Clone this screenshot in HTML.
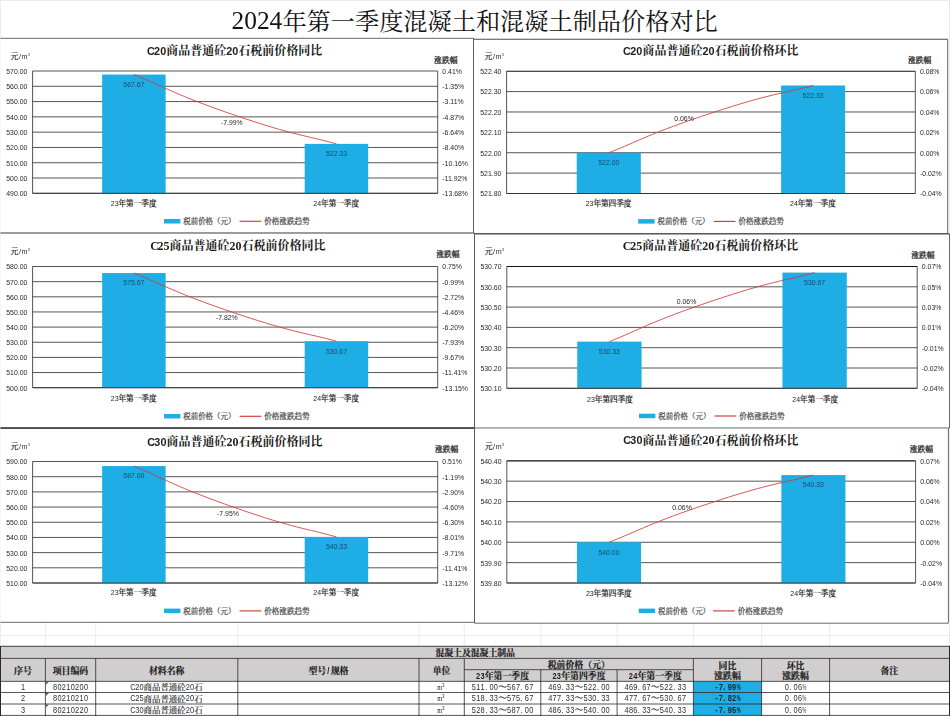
<!DOCTYPE html>
<html lang="zh-CN">
<head>
<meta charset="utf-8">
<title>2024年第一季度混凝土和混凝土制品价格对比</title>
<style>
html,body{margin:0;padding:0;background:#fff;}
body{width:950px;height:716px;overflow:hidden;font-family:"Liberation Sans",sans-serif;}
svg{display:block;}
.cj{font-family:"Liberation Serif","Noto Serif CJK SC",serif;}
</style>
</head>
<body>
<svg width="950" height="716" viewBox="0 0 950 716">
<rect x="0" y="0" width="950" height="716" fill="#fff"/>
<rect x="0" y="0" width="950" height="1" fill="#ececec"/>
<rect x="0" y="0" width="1" height="716" fill="#ececec"/>
<rect x="949" y="0" width="1" height="646" fill="#ececec"/>
<line x1="45.4" y1="622.5" x2="45.4" y2="646" stroke="#e7e7e7" stroke-width="0.8"/>
<line x1="95.7" y1="622.5" x2="95.7" y2="646" stroke="#e7e7e7" stroke-width="0.8"/>
<line x1="237.8" y1="622.5" x2="237.8" y2="646" stroke="#e7e7e7" stroke-width="0.8"/>
<line x1="419" y1="622.5" x2="419" y2="646" stroke="#e7e7e7" stroke-width="0.8"/>
<line x1="464.3" y1="622.5" x2="464.3" y2="646" stroke="#e7e7e7" stroke-width="0.8"/>
<line x1="540.8" y1="622.5" x2="540.8" y2="646" stroke="#e7e7e7" stroke-width="0.8"/>
<line x1="617.1" y1="622.5" x2="617.1" y2="646" stroke="#e7e7e7" stroke-width="0.8"/>
<line x1="693.4" y1="622.5" x2="693.4" y2="646" stroke="#e7e7e7" stroke-width="0.8"/>
<line x1="761.6" y1="622.5" x2="761.6" y2="646" stroke="#e7e7e7" stroke-width="0.8"/>
<line x1="829.6" y1="622.5" x2="829.6" y2="646" stroke="#e7e7e7" stroke-width="0.8"/>
<line x1="0" y1="635.5" x2="950" y2="635.5" stroke="#e7e7e7" stroke-width="0.8"/>
<text class="cj" x="282.4" y="29.9" font-size="24.2" fill="#111">年第一季度混凝土和混凝土制品价格对比</text>
<g id="chart1">
<rect x="0.5" y="38.3" width="473" height="194.8" fill="#fff"/>
<line x1="0.5" y1="38.3" x2="473.5" y2="38.3" stroke="#4d4d4d" stroke-width="0.85"/>
<line x1="473.5" y1="38.3" x2="473.5" y2="233.1" stroke="#4d4d4d" stroke-width="0.85"/>
<line x1="0.5" y1="233.1" x2="473.5" y2="233.1" stroke="#4d4d4d" stroke-width="0.85"/>
<text class="cj" y="54.8" font-size="12" font-weight="bold" fill="#1a1a1a"><tspan x="166.19">商品普通砼</tspan><tspan x="238.36">石税前价格同比</tspan></text>
<text class="cj" x="10.6" y="59.4" font-size="7.8" fill="#2a2a2a" stroke="#2a2a2a" stroke-width="0.23">元</text>
<text class="cj" x="434.1" y="62.9" font-size="7.8" fill="#222" stroke="#222" stroke-width="0.25">涨跌幅</text>
<line x1="32.6" y1="71" x2="437.7" y2="71" stroke="#2b2b2b" stroke-width="0.8"/>
<line x1="32.6" y1="86.29" x2="437.7" y2="86.29" stroke="#2b2b2b" stroke-width="0.8"/>
<line x1="32.6" y1="101.58" x2="437.7" y2="101.58" stroke="#2b2b2b" stroke-width="0.8"/>
<line x1="32.6" y1="116.86" x2="437.7" y2="116.86" stroke="#2b2b2b" stroke-width="0.8"/>
<line x1="32.6" y1="132.15" x2="437.7" y2="132.15" stroke="#2b2b2b" stroke-width="0.8"/>
<line x1="32.6" y1="147.44" x2="437.7" y2="147.44" stroke="#2b2b2b" stroke-width="0.8"/>
<line x1="32.6" y1="162.73" x2="437.7" y2="162.73" stroke="#2b2b2b" stroke-width="0.8"/>
<line x1="32.6" y1="178.01" x2="437.7" y2="178.01" stroke="#2b2b2b" stroke-width="0.8"/>
<line x1="32.6" y1="193.3" x2="437.7" y2="193.3" stroke="#2b2b2b" stroke-width="0.8"/>
<line x1="32.6" y1="71" x2="32.6" y2="193.3" stroke="#2b2b2b" stroke-width="0.8"/>
<line x1="437.7" y1="71" x2="437.7" y2="193.3" stroke="#2b2b2b" stroke-width="0.8"/>
<rect x="102.13" y="74.56" width="63.5" height="118.74" fill="#1fade5"/>
<rect x="304.68" y="143.88" width="63.5" height="49.42" fill="#1fade5"/>
<line x1="32.6" y1="193.3" x2="437.7" y2="193.3" stroke="#2b2b2b" stroke-width="0.8"/>
<path d="M133.88 74.56C164.26 86.79 174.38 94.52 235.15 115.32C295.92 136.11 306.04 135.31 336.43 143.88" fill="none" stroke="#cf3b37" stroke-width="0.85"/>
<text class="cj" x="118.49" y="206.3" font-size="7.62" fill="#1c1c1c" stroke="#1c1c1c" stroke-width="0.24">年第一季度</text>
<text class="cj" x="321.04" y="206.3" font-size="7.62" fill="#1c1c1c" stroke="#1c1c1c" stroke-width="0.24">年第一季度</text>
<rect x="164" y="219" width="16.4" height="4.5" fill="#1fade5"/>
<text class="cj" x="183.3" y="224.2" font-size="7.45" fill="#4c4c4c" stroke="#4c4c4c" stroke-width="0.22">税前价格（元）</text>
<line x1="239.6" y1="221.3" x2="261.3" y2="221.3" stroke="#cf3b37" stroke-width="1.15"/>
<text class="cj" x="264.2" y="224.2" font-size="7.58" fill="#4c4c4c" stroke="#4c4c4c" stroke-width="0.23">价格涨跌趋势</text>
</g>
<g id="chart2">
<rect x="473.5" y="39.2" width="474.2" height="194.7" fill="#fff"/>
<line x1="473.5" y1="39.2" x2="947.7" y2="39.2" stroke="#4d4d4d" stroke-width="1.1"/>
<line x1="947.7" y1="39.2" x2="947.7" y2="233.9" stroke="#4d4d4d" stroke-width="0.85"/>
<line x1="473.5" y1="233.9" x2="947.7" y2="233.9" stroke="#4d4d4d" stroke-width="1.3"/>
<line x1="473.5" y1="39.2" x2="473.5" y2="233.9" stroke="#4d4d4d" stroke-width="0.85"/>
<text class="cj" y="54.8" font-size="12" font-weight="bold" fill="#1a1a1a"><tspan x="642.39">商品普通砼</tspan><tspan x="714.56">石税前价格环比</tspan></text>
<text class="cj" x="484.6" y="59.4" font-size="7.8" fill="#2a2a2a" stroke="#2a2a2a" stroke-width="0.23">元</text>
<text class="cj" x="908" y="62.7" font-size="7.8" fill="#222" stroke="#222" stroke-width="0.25">涨跌幅</text>
<line x1="506.6" y1="71.2" x2="915.3" y2="71.2" stroke="#111" stroke-width="1.15"/>
<line x1="506.6" y1="91.58" x2="915.3" y2="91.58" stroke="#2b2b2b" stroke-width="0.8"/>
<line x1="506.6" y1="111.97" x2="915.3" y2="111.97" stroke="#2b2b2b" stroke-width="0.8"/>
<line x1="506.6" y1="132.35" x2="915.3" y2="132.35" stroke="#2b2b2b" stroke-width="0.8"/>
<line x1="506.6" y1="152.73" x2="915.3" y2="152.73" stroke="#2b2b2b" stroke-width="0.8"/>
<line x1="506.6" y1="173.12" x2="915.3" y2="173.12" stroke="#2b2b2b" stroke-width="0.8"/>
<line x1="506.6" y1="193.5" x2="915.3" y2="193.5" stroke="#2b2b2b" stroke-width="0.8"/>
<line x1="506.6" y1="71.2" x2="506.6" y2="193.5" stroke="#2b2b2b" stroke-width="0.8"/>
<line x1="915.3" y1="71.2" x2="915.3" y2="193.5" stroke="#2b2b2b" stroke-width="0.8"/>
<rect x="576.75" y="152.73" width="64.06" height="40.77" fill="#1fade5"/>
<rect x="781.1" y="85.47" width="64.06" height="108.03" fill="#1fade5"/>
<line x1="506.6" y1="193.5" x2="915.3" y2="193.5" stroke="#2b2b2b" stroke-width="0.8"/>
<path d="M608.77 152.73C639.43 140.87 649.64 133.36 710.95 113.18C772.26 93 782.47 93.78 813.12 85.47" fill="none" stroke="#cf3b37" stroke-width="0.85"/>
<text class="cj" x="593.39" y="206.4" font-size="7.62" fill="#1c1c1c" stroke="#1c1c1c" stroke-width="0.24">年第四季度</text>
<text class="cj" x="797.74" y="206.4" font-size="7.62" fill="#1c1c1c" stroke="#1c1c1c" stroke-width="0.24">年第一季度</text>
<rect x="638.2" y="219.1" width="16.4" height="4.5" fill="#1fade5"/>
<text class="cj" x="657.5" y="224.3" font-size="7.45" fill="#4c4c4c" stroke="#4c4c4c" stroke-width="0.22">税前价格（元）</text>
<line x1="713.8" y1="221.4" x2="735.5" y2="221.4" stroke="#cf3b37" stroke-width="1.15"/>
<text class="cj" x="738.4" y="224.3" font-size="7.58" fill="#4c4c4c" stroke="#4c4c4c" stroke-width="0.23">价格涨跌趋势</text>
</g>
<g id="chart3">
<rect x="0.5" y="233.1" width="474" height="195" fill="#fff"/>
<line x1="0.5" y1="233.1" x2="474.5" y2="233.1" stroke="#4d4d4d" stroke-width="0.85"/>
<line x1="474.5" y1="233.1" x2="474.5" y2="428.1" stroke="#4d4d4d" stroke-width="0.85"/>
<line x1="0.5" y1="428.1" x2="474.5" y2="428.1" stroke="#4d4d4d" stroke-width="1.1"/>
<text class="cj" y="249.8" font-size="12" font-weight="bold" fill="#1a1a1a"><tspan x="169.6">商品普通砼</tspan><tspan x="241.6">石税前价格同比</tspan></text>
<text class="cj" x="10.6" y="254.2" font-size="7.8" fill="#2a2a2a" stroke="#2a2a2a" stroke-width="0.23">元</text>
<text class="cj" x="436.2" y="257.1" font-size="7.8" fill="#222" stroke="#222" stroke-width="0.25">涨跌幅</text>
<line x1="32.6" y1="266.5" x2="437.7" y2="266.5" stroke="#2b2b2b" stroke-width="0.8"/>
<line x1="32.6" y1="281.65" x2="437.7" y2="281.65" stroke="#2b2b2b" stroke-width="0.8"/>
<line x1="32.6" y1="296.8" x2="437.7" y2="296.8" stroke="#2b2b2b" stroke-width="0.8"/>
<line x1="32.6" y1="311.95" x2="437.7" y2="311.95" stroke="#2b2b2b" stroke-width="0.8"/>
<line x1="32.6" y1="327.1" x2="437.7" y2="327.1" stroke="#2b2b2b" stroke-width="0.8"/>
<line x1="32.6" y1="342.25" x2="437.7" y2="342.25" stroke="#2b2b2b" stroke-width="0.8"/>
<line x1="32.6" y1="357.4" x2="437.7" y2="357.4" stroke="#2b2b2b" stroke-width="0.8"/>
<line x1="32.6" y1="372.55" x2="437.7" y2="372.55" stroke="#2b2b2b" stroke-width="0.8"/>
<line x1="32.6" y1="387.7" x2="437.7" y2="387.7" stroke="#2b2b2b" stroke-width="0.8"/>
<line x1="32.6" y1="266.5" x2="32.6" y2="387.7" stroke="#2b2b2b" stroke-width="0.8"/>
<line x1="437.7" y1="266.5" x2="437.7" y2="387.7" stroke="#2b2b2b" stroke-width="0.8"/>
<rect x="102.13" y="273.06" width="63.5" height="114.64" fill="#1fade5"/>
<rect x="304.68" y="341.23" width="63.5" height="46.47" fill="#1fade5"/>
<line x1="32.6" y1="387.7" x2="437.7" y2="387.7" stroke="#2b2b2b" stroke-width="0.8"/>
<path d="M133.88 273.06C164.26 285.09 174.38 292.69 235.15 313.15C295.92 333.6 306.04 332.81 336.43 341.23" fill="none" stroke="#cf3b37" stroke-width="0.85"/>
<text class="cj" x="118.49" y="400.9" font-size="7.62" fill="#1c1c1c" stroke="#1c1c1c" stroke-width="0.24">年第一季度</text>
<text class="cj" x="321.04" y="400.9" font-size="7.62" fill="#1c1c1c" stroke="#1c1c1c" stroke-width="0.24">年第一季度</text>
<rect x="164" y="414" width="16.4" height="4.5" fill="#1fade5"/>
<text class="cj" x="183.3" y="419.2" font-size="7.45" fill="#4c4c4c" stroke="#4c4c4c" stroke-width="0.22">税前价格（元）</text>
<line x1="239.6" y1="416.3" x2="261.3" y2="416.3" stroke="#cf3b37" stroke-width="1.15"/>
<text class="cj" x="264.2" y="419.2" font-size="7.58" fill="#4c4c4c" stroke="#4c4c4c" stroke-width="0.23">价格涨跌趋势</text>
</g>
<g id="chart4">
<rect x="474.5" y="233.9" width="475" height="194.2" fill="#fff"/>
<line x1="474.5" y1="233.9" x2="949.5" y2="233.9" stroke="#4d4d4d" stroke-width="1.3"/>
<line x1="949.5" y1="233.9" x2="949.5" y2="428.1" stroke="#4d4d4d" stroke-width="0.85"/>
<line x1="474.5" y1="428.1" x2="949.5" y2="428.1" stroke="#4d4d4d" stroke-width="0.7"/>
<line x1="474.5" y1="233.9" x2="474.5" y2="428.1" stroke="#4d4d4d" stroke-width="0.85"/>
<text class="cj" y="249.8" font-size="12" font-weight="bold" fill="#1a1a1a"><tspan x="642.2">商品普通砼</tspan><tspan x="714.2">石税前价格环比</tspan></text>
<text class="cj" x="484.8" y="254.2" font-size="7.8" fill="#2a2a2a" stroke="#2a2a2a" stroke-width="0.23">元</text>
<text class="cj" x="911.2" y="257.5" font-size="7.8" fill="#222" stroke="#222" stroke-width="0.25">涨跌幅</text>
<line x1="506.8" y1="266.5" x2="917.2" y2="266.5" stroke="#111" stroke-width="1.15"/>
<line x1="506.8" y1="286.8" x2="917.2" y2="286.8" stroke="#2b2b2b" stroke-width="0.8"/>
<line x1="506.8" y1="307.1" x2="917.2" y2="307.1" stroke="#2b2b2b" stroke-width="0.8"/>
<line x1="506.8" y1="327.4" x2="917.2" y2="327.4" stroke="#2b2b2b" stroke-width="0.8"/>
<line x1="506.8" y1="347.7" x2="917.2" y2="347.7" stroke="#2b2b2b" stroke-width="0.8"/>
<line x1="506.8" y1="368" x2="917.2" y2="368" stroke="#2b2b2b" stroke-width="0.8"/>
<line x1="506.8" y1="388.3" x2="917.2" y2="388.3" stroke="#2b2b2b" stroke-width="0.8"/>
<line x1="506.8" y1="266.5" x2="506.8" y2="388.3" stroke="#2b2b2b" stroke-width="0.8"/>
<line x1="917.2" y1="266.5" x2="917.2" y2="388.3" stroke="#2b2b2b" stroke-width="0.8"/>
<rect x="577.24" y="341.61" width="64.33" height="46.69" fill="#1fade5"/>
<rect x="782.44" y="272.59" width="64.33" height="115.71" fill="#1fade5"/>
<line x1="506.8" y1="388.3" x2="917.2" y2="388.3" stroke="#2b2b2b" stroke-width="0.8"/>
<path d="M609.4 341.61C640.18 329.43 650.44 321.73 712 301.03C773.56 280.32 783.82 281.12 814.6 272.59" fill="none" stroke="#cf3b37" stroke-width="0.85"/>
<text class="cj" x="594.82" y="401.6" font-size="7.62" fill="#1c1c1c" stroke="#1c1c1c" stroke-width="0.24">年第四季度</text>
<text class="cj" x="800.02" y="401.6" font-size="7.62" fill="#1c1c1c" stroke="#1c1c1c" stroke-width="0.24">年第一季度</text>
<rect x="639" y="413.7" width="16.4" height="4.5" fill="#1fade5"/>
<text class="cj" x="658.3" y="418.9" font-size="7.45" fill="#4c4c4c" stroke="#4c4c4c" stroke-width="0.22">税前价格（元）</text>
<line x1="714.6" y1="416" x2="736.3" y2="416" stroke="#cf3b37" stroke-width="1.15"/>
<text class="cj" x="739.2" y="418.9" font-size="7.58" fill="#4c4c4c" stroke="#4c4c4c" stroke-width="0.23">价格涨跌趋势</text>
</g>
<g id="chart5">
<rect x="0.5" y="428.1" width="474" height="194.2" fill="#fff"/>
<line x1="0.5" y1="428.1" x2="474.5" y2="428.1" stroke="#151515" stroke-width="1.3"/>
<line x1="474.5" y1="428.1" x2="474.5" y2="622.3" stroke="#4d4d4d" stroke-width="0.85"/>
<line x1="0.5" y1="622.3" x2="474.5" y2="622.3" stroke="#4d4d4d" stroke-width="0.85"/>
<text class="cj" y="446" font-size="12" font-weight="bold" fill="#1a1a1a"><tspan x="166.48">商品普通砼</tspan><tspan x="238.48">石税前价格同比</tspan></text>
<text class="cj" x="10.6" y="449.2" font-size="7.8" fill="#2a2a2a" stroke="#2a2a2a" stroke-width="0.23">元</text>
<text class="cj" x="434.9" y="452.2" font-size="7.8" fill="#222" stroke="#222" stroke-width="0.25">涨跌幅</text>
<line x1="32.6" y1="461.5" x2="437.7" y2="461.5" stroke="#2b2b2b" stroke-width="0.8"/>
<line x1="32.6" y1="476.69" x2="437.7" y2="476.69" stroke="#2b2b2b" stroke-width="0.8"/>
<line x1="32.6" y1="491.88" x2="437.7" y2="491.88" stroke="#2b2b2b" stroke-width="0.8"/>
<line x1="32.6" y1="507.06" x2="437.7" y2="507.06" stroke="#2b2b2b" stroke-width="0.8"/>
<line x1="32.6" y1="522.25" x2="437.7" y2="522.25" stroke="#2b2b2b" stroke-width="0.8"/>
<line x1="32.6" y1="537.44" x2="437.7" y2="537.44" stroke="#2b2b2b" stroke-width="0.8"/>
<line x1="32.6" y1="552.62" x2="437.7" y2="552.62" stroke="#2b2b2b" stroke-width="0.8"/>
<line x1="32.6" y1="567.81" x2="437.7" y2="567.81" stroke="#2b2b2b" stroke-width="0.8"/>
<line x1="32.6" y1="583" x2="437.7" y2="583" stroke="#2b2b2b" stroke-width="0.8"/>
<line x1="32.6" y1="461.5" x2="32.6" y2="583" stroke="#2b2b2b" stroke-width="0.8"/>
<line x1="437.7" y1="461.5" x2="437.7" y2="583" stroke="#2b2b2b" stroke-width="0.8"/>
<rect x="102.13" y="466.06" width="63.5" height="116.94" fill="#1fade5"/>
<rect x="304.68" y="536.94" width="63.5" height="46.06" fill="#1fade5"/>
<line x1="32.6" y1="583" x2="437.7" y2="583" stroke="#2b2b2b" stroke-width="0.8"/>
<path d="M133.88 466.06C164.26 478.56 174.38 486.47 235.15 507.73C295.92 529 306.04 528.18 336.43 536.94" fill="none" stroke="#cf3b37" stroke-width="0.85"/>
<text class="cj" x="118.49" y="595.3" font-size="7.62" fill="#1c1c1c" stroke="#1c1c1c" stroke-width="0.24">年第一季度</text>
<text class="cj" x="321.04" y="595.3" font-size="7.62" fill="#1c1c1c" stroke="#1c1c1c" stroke-width="0.24">年第一季度</text>
<rect x="164" y="608.6" width="16.4" height="4.5" fill="#1fade5"/>
<text class="cj" x="183.3" y="613.8" font-size="7.45" fill="#4c4c4c" stroke="#4c4c4c" stroke-width="0.22">税前价格（元）</text>
<line x1="239.6" y1="610.9" x2="261.3" y2="610.9" stroke="#cf3b37" stroke-width="1.15"/>
<text class="cj" x="264.2" y="613.8" font-size="7.58" fill="#4c4c4c" stroke="#4c4c4c" stroke-width="0.23">价格涨跌趋势</text>
</g>
<g id="chart6">
<rect x="474.5" y="428.1" width="473.9" height="195.1" fill="#fff"/>
<line x1="474.5" y1="428.1" x2="948.4" y2="428.1" stroke="#4d4d4d" stroke-width="0.6"/>
<line x1="948.4" y1="428.1" x2="948.4" y2="623.2" stroke="#4d4d4d" stroke-width="0.85"/>
<line x1="474.5" y1="623.2" x2="948.4" y2="623.2" stroke="#4d4d4d" stroke-width="0.85"/>
<line x1="474.5" y1="428.1" x2="474.5" y2="623.2" stroke="#4d4d4d" stroke-width="0.85"/>
<text class="cj" y="444.5" font-size="12" font-weight="bold" fill="#1a1a1a"><tspan x="642.48">商品普通砼</tspan><tspan x="714.48">石税前价格环比</tspan></text>
<text class="cj" x="484.8" y="449.2" font-size="7.8" fill="#2a2a2a" stroke="#2a2a2a" stroke-width="0.23">元</text>
<text class="cj" x="909.7" y="452.3" font-size="7.8" fill="#222" stroke="#222" stroke-width="0.25">涨跌幅</text>
<line x1="506.8" y1="460.8" x2="915.6" y2="460.8" stroke="#111" stroke-width="1.15"/>
<line x1="506.8" y1="481.17" x2="915.6" y2="481.17" stroke="#2b2b2b" stroke-width="0.8"/>
<line x1="506.8" y1="501.53" x2="915.6" y2="501.53" stroke="#2b2b2b" stroke-width="0.8"/>
<line x1="506.8" y1="521.9" x2="915.6" y2="521.9" stroke="#2b2b2b" stroke-width="0.8"/>
<line x1="506.8" y1="542.27" x2="915.6" y2="542.27" stroke="#2b2b2b" stroke-width="0.8"/>
<line x1="506.8" y1="562.63" x2="915.6" y2="562.63" stroke="#2b2b2b" stroke-width="0.8"/>
<line x1="506.8" y1="583" x2="915.6" y2="583" stroke="#2b2b2b" stroke-width="0.8"/>
<line x1="506.8" y1="460.8" x2="506.8" y2="583" stroke="#2b2b2b" stroke-width="0.8"/>
<line x1="915.6" y1="460.8" x2="915.6" y2="583" stroke="#2b2b2b" stroke-width="0.8"/>
<rect x="576.96" y="542.27" width="64.08" height="40.73" fill="#1fade5"/>
<rect x="781.36" y="475.06" width="64.08" height="107.94" fill="#1fade5"/>
<line x1="506.8" y1="583" x2="915.6" y2="583" stroke="#2b2b2b" stroke-width="0.8"/>
<path d="M609 542.27C639.66 530.41 649.88 522.91 711.2 502.75C772.52 482.58 782.74 483.36 813.4 475.06" fill="none" stroke="#cf3b37" stroke-width="0.85"/>
<text class="cj" x="593.62" y="595.6" font-size="7.62" fill="#1c1c1c" stroke="#1c1c1c" stroke-width="0.24">年第四季度</text>
<text class="cj" x="798.02" y="595.6" font-size="7.62" fill="#1c1c1c" stroke="#1c1c1c" stroke-width="0.24">年第一季度</text>
<rect x="638.7" y="608.6" width="16.4" height="4.5" fill="#1fade5"/>
<text class="cj" x="658" y="613.8" font-size="7.45" fill="#4c4c4c" stroke="#4c4c4c" stroke-width="0.22">税前价格（元）</text>
<line x1="713.1" y1="610.9" x2="734.8" y2="610.9" stroke="#cf3b37" stroke-width="1.15"/>
<text class="cj" x="737.7" y="613.8" font-size="7.58" fill="#4c4c4c" stroke="#4c4c4c" stroke-width="0.23">价格涨跌趋势</text>
</g>
<g id="table">
<rect x="0.5" y="646.3" width="949" height="35.05" fill="#d0cece"/>
<rect x="693.4" y="681.35" width="68.2" height="34.05" fill="#1fade5"/>
<line x1="0" y1="646.3" x2="950" y2="646.3" stroke="#5e5e5e" stroke-width="1.2"/>
<line x1="0.8" y1="658.4" x2="949" y2="658.4" stroke="#2a2a2a" stroke-width="0.8"/>
<line x1="464.3" y1="669.7" x2="693.4" y2="669.7" stroke="#2a2a2a" stroke-width="0.8"/>
<line x1="0.8" y1="681.35" x2="949" y2="681.35" stroke="#2a2a2a" stroke-width="0.8"/>
<line x1="0.8" y1="692.5" x2="949" y2="692.5" stroke="#2a2a2a" stroke-width="0.8"/>
<line x1="0.8" y1="704" x2="949" y2="704" stroke="#2a2a2a" stroke-width="0.8"/>
<line x1="0.8" y1="715.4" x2="949" y2="715.4" stroke="#2a2a2a" stroke-width="0.8"/>
<line x1="0.5" y1="646.3" x2="0.5" y2="716" stroke="#2a2a2a" stroke-width="1"/>
<line x1="949.5" y1="646.3" x2="949.5" y2="716" stroke="#2a2a2a" stroke-width="1"/>
<line x1="45.4" y1="658.4" x2="45.4" y2="716" stroke="#2a2a2a" stroke-width="0.8"/>
<line x1="95.7" y1="658.4" x2="95.7" y2="716" stroke="#2a2a2a" stroke-width="0.8"/>
<line x1="237.8" y1="658.4" x2="237.8" y2="716" stroke="#2a2a2a" stroke-width="0.8"/>
<line x1="419" y1="658.4" x2="419" y2="716" stroke="#2a2a2a" stroke-width="0.8"/>
<line x1="464.3" y1="658.4" x2="464.3" y2="716" stroke="#2a2a2a" stroke-width="0.8"/>
<line x1="540.8" y1="669.7" x2="540.8" y2="716" stroke="#2a2a2a" stroke-width="0.8"/>
<line x1="617.1" y1="669.7" x2="617.1" y2="716" stroke="#2a2a2a" stroke-width="0.8"/>
<line x1="693.4" y1="658.4" x2="693.4" y2="716" stroke="#2a2a2a" stroke-width="0.8"/>
<line x1="761.6" y1="658.4" x2="761.6" y2="716" stroke="#2a2a2a" stroke-width="0.8"/>
<line x1="829.6" y1="658.4" x2="829.6" y2="716" stroke="#2a2a2a" stroke-width="0.8"/>
<text class="cj" x="435.38" y="656.2" font-size="8.85" font-weight="bold" fill="#1a1a1a" stroke="#1a1a1a" stroke-width="0.19">混凝土及混凝土制品</text>
<text class="cj" x="14.05" y="674.1" font-size="8.9" font-weight="bold" fill="#1a1a1a" stroke="#1a1a1a" stroke-width="0.2">序号</text>
<text class="cj" x="52.75" y="674.1" font-size="8.9" font-weight="bold" fill="#1a1a1a" stroke="#1a1a1a" stroke-width="0.2">项目编码</text>
<text class="cj" x="148.95" y="674.1" font-size="8.9" font-weight="bold" fill="#1a1a1a" stroke="#1a1a1a" stroke-width="0.2">材料名称</text>
<text class="cj" y="674.1" font-size="8.9" font-weight="bold" fill="#1a1a1a" stroke="#1a1a1a" stroke-width="0.2"><tspan x="308.38">型号</tspan><tspan x="330.63">规格</tspan></text>
<text class="cj" x="432.75" y="674.1" font-size="8.9" font-weight="bold" fill="#1a1a1a" stroke="#1a1a1a" stroke-width="0.2">单位</text>
<text class="cj" x="547.7" y="667.9" font-size="8.9" font-weight="bold" fill="#1a1a1a" stroke="#1a1a1a" stroke-width="0.2">税前价格（元）</text>
<text class="cj" x="484.75" y="679.2" font-size="8.9" font-weight="bold" fill="#1a1a1a" stroke="#1a1a1a" stroke-width="0.2">年第一季度</text>
<text class="cj" x="561.15" y="679.2" font-size="8.9" font-weight="bold" fill="#1a1a1a" stroke="#1a1a1a" stroke-width="0.2">年第四季度</text>
<text class="cj" x="637.45" y="679.2" font-size="8.9" font-weight="bold" fill="#1a1a1a" stroke="#1a1a1a" stroke-width="0.2">年第一季度</text>
<text class="cj" x="718.6" y="668.8" font-size="8.9" font-weight="bold" fill="#1a1a1a" stroke="#1a1a1a" stroke-width="0.2">同比</text>
<text class="cj" x="714.15" y="679.3" font-size="8.9" font-weight="bold" fill="#1a1a1a" stroke="#1a1a1a" stroke-width="0.2">涨跌幅</text>
<text class="cj" x="786.7" y="668.8" font-size="8.9" font-weight="bold" fill="#1a1a1a" stroke="#1a1a1a" stroke-width="0.2">环比</text>
<text class="cj" x="782.25" y="679.3" font-size="8.9" font-weight="bold" fill="#1a1a1a" stroke="#1a1a1a" stroke-width="0.2">涨跌幅</text>
<text class="cj" x="880.4" y="674.1" font-size="8.9" font-weight="bold" fill="#1a1a1a" stroke="#1a1a1a" stroke-width="0.2">备注</text>
<text class="cj" y="690.35" font-size="8.43" fill="#2c2c2c" stroke="#2c2c2c" stroke-width="0.2"><tspan x="143.57">商品普通砼</tspan><tspan x="194.15">石</tspan></text>
<text class="cj" x="498.13" y="690.25" font-size="8.83" fill="#2c2c2c" stroke="#2c2c2c" stroke-width="0.25">～</text>
<text class="cj" x="574.54" y="690.25" font-size="8.83" fill="#2c2c2c" stroke="#2c2c2c" stroke-width="0.25">～</text>
<text class="cj" x="650.84" y="690.25" font-size="8.83" fill="#2c2c2c" stroke="#2c2c2c" stroke-width="0.25">～</text>
<path d="M45.8 681.75h3.1l-3.1 3.1z" fill="#2b6e48"/>
<text class="cj" y="701.5" font-size="8.43" fill="#2c2c2c" stroke="#2c2c2c" stroke-width="0.2"><tspan x="143.57">商品普通砼</tspan><tspan x="194.15">石</tspan></text>
<text class="cj" x="498.13" y="701.4" font-size="8.83" fill="#2c2c2c" stroke="#2c2c2c" stroke-width="0.25">～</text>
<text class="cj" x="574.54" y="701.4" font-size="8.83" fill="#2c2c2c" stroke="#2c2c2c" stroke-width="0.25">～</text>
<text class="cj" x="650.84" y="701.4" font-size="8.83" fill="#2c2c2c" stroke="#2c2c2c" stroke-width="0.25">～</text>
<path d="M45.8 692.9h3.1l-3.1 3.1z" fill="#2b6e48"/>
<text class="cj" y="713" font-size="8.43" fill="#2c2c2c" stroke="#2c2c2c" stroke-width="0.2"><tspan x="143.57">商品普通砼</tspan><tspan x="194.15">石</tspan></text>
<text class="cj" x="498.13" y="712.9" font-size="8.83" fill="#2c2c2c" stroke="#2c2c2c" stroke-width="0.25">～</text>
<text class="cj" x="574.54" y="712.9" font-size="8.83" fill="#2c2c2c" stroke="#2c2c2c" stroke-width="0.25">～</text>
<text class="cj" x="650.84" y="712.9" font-size="8.83" fill="#2c2c2c" stroke="#2c2c2c" stroke-width="0.25">～</text>
<path d="M45.8 704.4h3.1l-3.1 3.1z" fill="#2b6e48"/>
</g>
<g id="labels" opacity="0.99">
<text x="237.85 250.55 263.25 275.95" y="28.9" font-family="Liberation Serif" font-size="25.4" fill="#111" text-anchor="middle">2024</text>
<text x="150.83 157.07 163.16 229.24 235.32" y="54.5" font-family="Liberation Sans" font-size="10.8" font-weight="bold" fill="#1a1a1a" text-anchor="middle">C2020</text>
<text x="19.91 24.53" y="59.4" font-family="Liberation Sans" font-size="7.11" fill="#2a2a2a" text-anchor="middle">/m</text>
<text x="27.74" y="56.1" font-family="Liberation Sans" font-size="3.7" fill="#2a2a2a" text-anchor="start">3</text>
<text x="27.3" y="73.9" font-family="Liberation Sans" font-size="6.9" fill="#262626" text-anchor="end">570.00</text>
<text x="442.3" y="73.9" font-family="Liberation Sans" font-size="6.9" fill="#262626" text-anchor="start">0.41%</text>
<text x="27.3" y="89.19" font-family="Liberation Sans" font-size="6.9" fill="#262626" text-anchor="end">560.00</text>
<text x="442.3" y="89.19" font-family="Liberation Sans" font-size="6.9" fill="#262626" text-anchor="start">-1.35%</text>
<text x="27.3" y="104.48" font-family="Liberation Sans" font-size="6.9" fill="#262626" text-anchor="end">550.00</text>
<text x="442.3" y="104.48" font-family="Liberation Sans" font-size="6.9" fill="#262626" text-anchor="start">-3.11%</text>
<text x="27.3" y="119.76" font-family="Liberation Sans" font-size="6.9" fill="#262626" text-anchor="end">540.00</text>
<text x="442.3" y="119.76" font-family="Liberation Sans" font-size="6.9" fill="#262626" text-anchor="start">-4.87%</text>
<text x="27.3" y="135.05" font-family="Liberation Sans" font-size="6.9" fill="#262626" text-anchor="end">530.00</text>
<text x="442.3" y="135.05" font-family="Liberation Sans" font-size="6.9" fill="#262626" text-anchor="start">-6.64%</text>
<text x="27.3" y="150.34" font-family="Liberation Sans" font-size="6.9" fill="#262626" text-anchor="end">520.00</text>
<text x="442.3" y="150.34" font-family="Liberation Sans" font-size="6.9" fill="#262626" text-anchor="start">-8.40%</text>
<text x="27.3" y="165.63" font-family="Liberation Sans" font-size="6.9" fill="#262626" text-anchor="end">510.00</text>
<text x="442.3" y="165.63" font-family="Liberation Sans" font-size="6.9" fill="#262626" text-anchor="start">-10.16%</text>
<text x="27.3" y="180.91" font-family="Liberation Sans" font-size="6.9" fill="#262626" text-anchor="end">500.00</text>
<text x="442.3" y="180.91" font-family="Liberation Sans" font-size="6.9" fill="#262626" text-anchor="start">-11.92%</text>
<text x="27.3" y="196.2" font-family="Liberation Sans" font-size="6.9" fill="#262626" text-anchor="end">490.00</text>
<text x="442.3" y="196.2" font-family="Liberation Sans" font-size="6.9" fill="#262626" text-anchor="start">-13.68%</text>
<text x="133.88" y="86.86" font-family="Liberation Sans" font-size="6.9" fill="#154c66" text-anchor="middle">567.67</text>
<text x="336.43" y="156.18" font-family="Liberation Sans" font-size="6.9" fill="#154c66" text-anchor="middle">522.33</text>
<text x="231.8" y="125.4" font-family="Liberation Sans" font-size="6.9" fill="#262626" text-anchor="middle">-7.99%</text>
<text x="112.69 116.56" y="206.3" font-family="Liberation Sans" font-size="6.95" fill="#1c1c1c" text-anchor="middle">23</text>
<text x="315.24 319.11" y="206.3" font-family="Liberation Sans" font-size="6.95" fill="#1c1c1c" text-anchor="middle">24</text>
<text x="627.03 633.27 639.36 705.44 711.52" y="54.5" font-family="Liberation Sans" font-size="10.8" font-weight="bold" fill="#1a1a1a" text-anchor="middle">C2020</text>
<text x="493.91 498.53" y="59.4" font-family="Liberation Sans" font-size="7.11" fill="#2a2a2a" text-anchor="middle">/m</text>
<text x="501.74" y="56.1" font-family="Liberation Sans" font-size="3.7" fill="#2a2a2a" text-anchor="start">3</text>
<text x="501.3" y="74.1" font-family="Liberation Sans" font-size="6.9" fill="#262626" text-anchor="end">522.40</text>
<text x="919.9" y="74.1" font-family="Liberation Sans" font-size="6.9" fill="#262626" text-anchor="start">0.08%</text>
<text x="501.3" y="94.48" font-family="Liberation Sans" font-size="6.9" fill="#262626" text-anchor="end">522.30</text>
<text x="919.9" y="94.48" font-family="Liberation Sans" font-size="6.9" fill="#262626" text-anchor="start">0.06%</text>
<text x="501.3" y="114.87" font-family="Liberation Sans" font-size="6.9" fill="#262626" text-anchor="end">522.20</text>
<text x="919.9" y="114.87" font-family="Liberation Sans" font-size="6.9" fill="#262626" text-anchor="start">0.04%</text>
<text x="501.3" y="135.25" font-family="Liberation Sans" font-size="6.9" fill="#262626" text-anchor="end">522.10</text>
<text x="919.9" y="135.25" font-family="Liberation Sans" font-size="6.9" fill="#262626" text-anchor="start">0.02%</text>
<text x="501.3" y="155.63" font-family="Liberation Sans" font-size="6.9" fill="#262626" text-anchor="end">522.00</text>
<text x="919.9" y="155.63" font-family="Liberation Sans" font-size="6.9" fill="#262626" text-anchor="start">0.00%</text>
<text x="501.3" y="176.02" font-family="Liberation Sans" font-size="6.9" fill="#262626" text-anchor="end">521.90</text>
<text x="919.9" y="176.02" font-family="Liberation Sans" font-size="6.9" fill="#262626" text-anchor="start">-0.02%</text>
<text x="501.3" y="196.4" font-family="Liberation Sans" font-size="6.9" fill="#262626" text-anchor="end">521.80</text>
<text x="919.9" y="196.4" font-family="Liberation Sans" font-size="6.9" fill="#262626" text-anchor="start">-0.04%</text>
<text x="608.77" y="165.03" font-family="Liberation Sans" font-size="6.9" fill="#154c66" text-anchor="middle">522.00</text>
<text x="813.12" y="97.77" font-family="Liberation Sans" font-size="6.9" fill="#154c66" text-anchor="middle">522.33</text>
<text x="684" y="120.8" font-family="Liberation Sans" font-size="6.9" fill="#262626" text-anchor="middle">0.06%</text>
<text x="587.59 591.46" y="206.4" font-family="Liberation Sans" font-size="6.95" fill="#1c1c1c" text-anchor="middle">23</text>
<text x="791.94 795.81" y="206.4" font-family="Liberation Sans" font-size="6.95" fill="#1c1c1c" text-anchor="middle">24</text>
<text x="154.6 160.6 166.6 232.6 238.6" y="249.5" font-family="Liberation Serif" font-size="12" font-weight="bold" fill="#1a1a1a" text-anchor="middle">C2520</text>
<text x="19.91 24.53" y="254.2" font-family="Liberation Sans" font-size="7.11" fill="#2a2a2a" text-anchor="middle">/m</text>
<text x="27.74" y="250.9" font-family="Liberation Sans" font-size="3.7" fill="#2a2a2a" text-anchor="start">3</text>
<text x="27.3" y="269.4" font-family="Liberation Sans" font-size="6.9" fill="#262626" text-anchor="end">580.00</text>
<text x="442.3" y="269.4" font-family="Liberation Sans" font-size="6.9" fill="#262626" text-anchor="start">0.75%</text>
<text x="27.3" y="284.55" font-family="Liberation Sans" font-size="6.9" fill="#262626" text-anchor="end">570.00</text>
<text x="442.3" y="284.55" font-family="Liberation Sans" font-size="6.9" fill="#262626" text-anchor="start">-0.99%</text>
<text x="27.3" y="299.7" font-family="Liberation Sans" font-size="6.9" fill="#262626" text-anchor="end">560.00</text>
<text x="442.3" y="299.7" font-family="Liberation Sans" font-size="6.9" fill="#262626" text-anchor="start">-2.72%</text>
<text x="27.3" y="314.85" font-family="Liberation Sans" font-size="6.9" fill="#262626" text-anchor="end">550.00</text>
<text x="442.3" y="314.85" font-family="Liberation Sans" font-size="6.9" fill="#262626" text-anchor="start">-4.46%</text>
<text x="27.3" y="330" font-family="Liberation Sans" font-size="6.9" fill="#262626" text-anchor="end">540.00</text>
<text x="442.3" y="330" font-family="Liberation Sans" font-size="6.9" fill="#262626" text-anchor="start">-6.20%</text>
<text x="27.3" y="345.15" font-family="Liberation Sans" font-size="6.9" fill="#262626" text-anchor="end">530.00</text>
<text x="442.3" y="345.15" font-family="Liberation Sans" font-size="6.9" fill="#262626" text-anchor="start">-7.93%</text>
<text x="27.3" y="360.3" font-family="Liberation Sans" font-size="6.9" fill="#262626" text-anchor="end">520.00</text>
<text x="442.3" y="360.3" font-family="Liberation Sans" font-size="6.9" fill="#262626" text-anchor="start">-9.67%</text>
<text x="27.3" y="375.45" font-family="Liberation Sans" font-size="6.9" fill="#262626" text-anchor="end">510.00</text>
<text x="442.3" y="375.45" font-family="Liberation Sans" font-size="6.9" fill="#262626" text-anchor="start">-11.41%</text>
<text x="27.3" y="390.6" font-family="Liberation Sans" font-size="6.9" fill="#262626" text-anchor="end">500.00</text>
<text x="442.3" y="390.6" font-family="Liberation Sans" font-size="6.9" fill="#262626" text-anchor="start">-13.15%</text>
<text x="133.88" y="285.36" font-family="Liberation Sans" font-size="6.9" fill="#154c66" text-anchor="middle">575.67</text>
<text x="336.43" y="353.53" font-family="Liberation Sans" font-size="6.9" fill="#154c66" text-anchor="middle">530.67</text>
<text x="226.8" y="320.3" font-family="Liberation Sans" font-size="6.9" fill="#262626" text-anchor="middle">-7.82%</text>
<text x="112.69 116.56" y="400.9" font-family="Liberation Sans" font-size="6.95" fill="#1c1c1c" text-anchor="middle">23</text>
<text x="315.24 319.11" y="400.9" font-family="Liberation Sans" font-size="6.95" fill="#1c1c1c" text-anchor="middle">24</text>
<text x="627.2 633.2 639.2 705.2 711.2" y="249.5" font-family="Liberation Serif" font-size="12" font-weight="bold" fill="#1a1a1a" text-anchor="middle">C2520</text>
<text x="494.11 498.73" y="254.2" font-family="Liberation Sans" font-size="7.11" fill="#2a2a2a" text-anchor="middle">/m</text>
<text x="501.94" y="250.9" font-family="Liberation Sans" font-size="3.7" fill="#2a2a2a" text-anchor="start">3</text>
<text x="501.5" y="269.4" font-family="Liberation Sans" font-size="6.9" fill="#262626" text-anchor="end">530.70</text>
<text x="921.8" y="269.4" font-family="Liberation Sans" font-size="6.9" fill="#262626" text-anchor="start">0.07%</text>
<text x="501.5" y="289.7" font-family="Liberation Sans" font-size="6.9" fill="#262626" text-anchor="end">530.60</text>
<text x="921.8" y="289.7" font-family="Liberation Sans" font-size="6.9" fill="#262626" text-anchor="start">0.05%</text>
<text x="501.5" y="310" font-family="Liberation Sans" font-size="6.9" fill="#262626" text-anchor="end">530.50</text>
<text x="921.8" y="310" font-family="Liberation Sans" font-size="6.9" fill="#262626" text-anchor="start">0.03%</text>
<text x="501.5" y="330.3" font-family="Liberation Sans" font-size="6.9" fill="#262626" text-anchor="end">530.40</text>
<text x="921.8" y="330.3" font-family="Liberation Sans" font-size="6.9" fill="#262626" text-anchor="start">0.01%</text>
<text x="501.5" y="350.6" font-family="Liberation Sans" font-size="6.9" fill="#262626" text-anchor="end">530.30</text>
<text x="921.8" y="350.6" font-family="Liberation Sans" font-size="6.9" fill="#262626" text-anchor="start">-0.01%</text>
<text x="501.5" y="370.9" font-family="Liberation Sans" font-size="6.9" fill="#262626" text-anchor="end">530.20</text>
<text x="921.8" y="370.9" font-family="Liberation Sans" font-size="6.9" fill="#262626" text-anchor="start">-0.02%</text>
<text x="501.5" y="391.2" font-family="Liberation Sans" font-size="6.9" fill="#262626" text-anchor="end">530.10</text>
<text x="921.8" y="391.2" font-family="Liberation Sans" font-size="6.9" fill="#262626" text-anchor="start">-0.04%</text>
<text x="609.4" y="353.91" font-family="Liberation Sans" font-size="6.9" fill="#154c66" text-anchor="middle">530.33</text>
<text x="814.6" y="284.89" font-family="Liberation Sans" font-size="6.9" fill="#154c66" text-anchor="middle">530.67</text>
<text x="686.5" y="303.5" font-family="Liberation Sans" font-size="6.9" fill="#262626" text-anchor="middle">0.06%</text>
<text x="589.02 592.88" y="401.6" font-family="Liberation Sans" font-size="6.95" fill="#1c1c1c" text-anchor="middle">23</text>
<text x="794.22 798.08" y="401.6" font-family="Liberation Sans" font-size="6.95" fill="#1c1c1c" text-anchor="middle">24</text>
<text x="151.12 157.36 163.44" y="445.7" font-family="Liberation Sans" font-size="10.8" font-weight="bold" fill="#1a1a1a" text-anchor="middle">C30</text>
<text x="229.48 235.48" y="445.7" font-family="Liberation Serif" font-size="12" font-weight="bold" fill="#1a1a1a" text-anchor="middle">20</text>
<text x="19.91 24.53" y="449.2" font-family="Liberation Sans" font-size="7.11" fill="#2a2a2a" text-anchor="middle">/m</text>
<text x="27.74" y="445.9" font-family="Liberation Sans" font-size="3.7" fill="#2a2a2a" text-anchor="start">3</text>
<text x="27.3" y="464.4" font-family="Liberation Sans" font-size="6.9" fill="#262626" text-anchor="end">590.00</text>
<text x="442.3" y="464.4" font-family="Liberation Sans" font-size="6.9" fill="#262626" text-anchor="start">0.51%</text>
<text x="27.3" y="479.59" font-family="Liberation Sans" font-size="6.9" fill="#262626" text-anchor="end">580.00</text>
<text x="442.3" y="479.59" font-family="Liberation Sans" font-size="6.9" fill="#262626" text-anchor="start">-1.19%</text>
<text x="27.3" y="494.77" font-family="Liberation Sans" font-size="6.9" fill="#262626" text-anchor="end">570.00</text>
<text x="442.3" y="494.77" font-family="Liberation Sans" font-size="6.9" fill="#262626" text-anchor="start">-2.90%</text>
<text x="27.3" y="509.96" font-family="Liberation Sans" font-size="6.9" fill="#262626" text-anchor="end">560.00</text>
<text x="442.3" y="509.96" font-family="Liberation Sans" font-size="6.9" fill="#262626" text-anchor="start">-4.60%</text>
<text x="27.3" y="525.15" font-family="Liberation Sans" font-size="6.9" fill="#262626" text-anchor="end">550.00</text>
<text x="442.3" y="525.15" font-family="Liberation Sans" font-size="6.9" fill="#262626" text-anchor="start">-6.30%</text>
<text x="27.3" y="540.34" font-family="Liberation Sans" font-size="6.9" fill="#262626" text-anchor="end">540.00</text>
<text x="442.3" y="540.34" font-family="Liberation Sans" font-size="6.9" fill="#262626" text-anchor="start">-8.01%</text>
<text x="27.3" y="555.52" font-family="Liberation Sans" font-size="6.9" fill="#262626" text-anchor="end">530.00</text>
<text x="442.3" y="555.52" font-family="Liberation Sans" font-size="6.9" fill="#262626" text-anchor="start">-9.71%</text>
<text x="27.3" y="570.71" font-family="Liberation Sans" font-size="6.9" fill="#262626" text-anchor="end">520.00</text>
<text x="442.3" y="570.71" font-family="Liberation Sans" font-size="6.9" fill="#262626" text-anchor="start">-11.41%</text>
<text x="27.3" y="585.9" font-family="Liberation Sans" font-size="6.9" fill="#262626" text-anchor="end">510.00</text>
<text x="442.3" y="585.9" font-family="Liberation Sans" font-size="6.9" fill="#262626" text-anchor="start">-13.12%</text>
<text x="133.88" y="478.36" font-family="Liberation Sans" font-size="6.9" fill="#154c66" text-anchor="middle">587.00</text>
<text x="336.43" y="549.24" font-family="Liberation Sans" font-size="6.9" fill="#154c66" text-anchor="middle">540.33</text>
<text x="228" y="516.3" font-family="Liberation Sans" font-size="6.9" fill="#262626" text-anchor="middle">-7.95%</text>
<text x="112.69 116.56" y="595.3" font-family="Liberation Sans" font-size="6.95" fill="#1c1c1c" text-anchor="middle">23</text>
<text x="315.24 319.11" y="595.3" font-family="Liberation Sans" font-size="6.95" fill="#1c1c1c" text-anchor="middle">24</text>
<text x="627.12 633.36 639.44" y="444.2" font-family="Liberation Sans" font-size="10.8" font-weight="bold" fill="#1a1a1a" text-anchor="middle">C30</text>
<text x="705.48 711.48" y="444.2" font-family="Liberation Serif" font-size="12" font-weight="bold" fill="#1a1a1a" text-anchor="middle">20</text>
<text x="494.11 498.73" y="449.2" font-family="Liberation Sans" font-size="7.11" fill="#2a2a2a" text-anchor="middle">/m</text>
<text x="501.94" y="445.9" font-family="Liberation Sans" font-size="3.7" fill="#2a2a2a" text-anchor="start">3</text>
<text x="501.5" y="463.7" font-family="Liberation Sans" font-size="6.9" fill="#262626" text-anchor="end">540.40</text>
<text x="920.2" y="463.7" font-family="Liberation Sans" font-size="6.9" fill="#262626" text-anchor="start">0.07%</text>
<text x="501.5" y="484.07" font-family="Liberation Sans" font-size="6.9" fill="#262626" text-anchor="end">540.30</text>
<text x="920.2" y="484.07" font-family="Liberation Sans" font-size="6.9" fill="#262626" text-anchor="start">0.06%</text>
<text x="501.5" y="504.43" font-family="Liberation Sans" font-size="6.9" fill="#262626" text-anchor="end">540.20</text>
<text x="920.2" y="504.43" font-family="Liberation Sans" font-size="6.9" fill="#262626" text-anchor="start">0.04%</text>
<text x="501.5" y="524.8" font-family="Liberation Sans" font-size="6.9" fill="#262626" text-anchor="end">540.10</text>
<text x="920.2" y="524.8" font-family="Liberation Sans" font-size="6.9" fill="#262626" text-anchor="start">0.02%</text>
<text x="501.5" y="545.17" font-family="Liberation Sans" font-size="6.9" fill="#262626" text-anchor="end">540.00</text>
<text x="920.2" y="545.17" font-family="Liberation Sans" font-size="6.9" fill="#262626" text-anchor="start">0.00%</text>
<text x="501.5" y="565.53" font-family="Liberation Sans" font-size="6.9" fill="#262626" text-anchor="end">539.90</text>
<text x="920.2" y="565.53" font-family="Liberation Sans" font-size="6.9" fill="#262626" text-anchor="start">-0.02%</text>
<text x="501.5" y="585.9" font-family="Liberation Sans" font-size="6.9" fill="#262626" text-anchor="end">539.80</text>
<text x="920.2" y="585.9" font-family="Liberation Sans" font-size="6.9" fill="#262626" text-anchor="start">-0.04%</text>
<text x="609" y="554.57" font-family="Liberation Sans" font-size="6.9" fill="#154c66" text-anchor="middle">540.00</text>
<text x="813.4" y="487.36" font-family="Liberation Sans" font-size="6.9" fill="#154c66" text-anchor="middle">540.33</text>
<text x="682" y="509.8" font-family="Liberation Sans" font-size="6.9" fill="#262626" text-anchor="middle">0.06%</text>
<text x="587.82 591.68" y="595.6" font-family="Liberation Sans" font-size="6.95" fill="#1c1c1c" text-anchor="middle">23</text>
<text x="792.22 796.08" y="595.6" font-family="Liberation Sans" font-size="6.95" fill="#1c1c1c" text-anchor="middle">24</text>
<text transform="scale(0.9 1)" x="364.89" y="674.1" font-family="Liberation Sans" font-size="8.28" font-weight="bold" fill="#1a1a1a" text-anchor="middle">/</text>
<text transform="scale(0.9 1)" x="531.19 536.13" y="679.2" font-family="Liberation Sans" font-size="8.28" font-weight="bold" fill="#1a1a1a" text-anchor="middle">23</text>
<text transform="scale(0.9 1)" x="616.09 621.03" y="679.2" font-family="Liberation Sans" font-size="8.28" font-weight="bold" fill="#1a1a1a" text-anchor="middle">23</text>
<text transform="scale(0.9 1)" x="700.86 705.81" y="679.2" font-family="Liberation Sans" font-size="8.28" font-weight="bold" fill="#1a1a1a" text-anchor="middle">24</text>
<text transform="scale(0.9 1)" x="25.5" y="690.25" font-family="Liberation Sans" font-size="8.21" fill="#2c2c2c" text-anchor="middle">1</text>
<text transform="scale(0.9 1)" x="61.22 66.12 71.03 75.93 80.84 85.74 90.66 95.56" y="690.25" font-family="Liberation Sans" font-size="8.21" fill="#2c2c2c" text-anchor="middle">80210200</text>
<text transform="scale(0.9 1)" x="147.81 152.5 157.18 208.7 213.38" y="690.35" font-family="Liberation Sans" font-size="8.25" fill="#2c2c2c" text-anchor="middle">C2020</text>
<text x="440.65" y="689.95" font-family="Liberation Serif" font-size="8.2" fill="#222" text-anchor="middle" transform="translate(439.85 0) scale(0.8 1) translate(-440.65 0)">m</text>
<text x="443.15" y="687.05" font-family="Liberation Sans" font-size="5" fill="#222" text-anchor="start" transform="translate(442.25 0) scale(0.8 1) translate(-443.15 0)">3</text>
<text transform="scale(0.9 1)" x="526.5 531.41 536.31 540.22 546.12 551.03 565.74 570.66 575.56 579.47 585.37 590.28" y="690.25" font-family="Liberation Sans" font-size="8.21" fill="#2c2c2c" text-anchor="middle">511.00567.67</text>
<text transform="scale(0.9 1)" x="611.39 616.3 621.2 625.11 631.01 635.92 650.63 655.54 660.44 664.36 670.26 675.17" y="690.25" font-family="Liberation Sans" font-size="8.21" fill="#2c2c2c" text-anchor="middle">469.33522.00</text>
<text transform="scale(0.9 1)" x="696.17 701.08 705.98 709.89 715.79 720.7 735.41 740.32 745.22 749.13 755.03 759.94" y="690.25" font-family="Liberation Sans" font-size="8.21" fill="#2c2c2c" text-anchor="middle">469.67522.33</text>
<text transform="scale(0.9 1)" x="796.07 800.98 804.88 810.79 815.69" y="690.25" font-family="Liberation Sans" font-size="8.21" font-weight="bold" fill="#16222a" text-anchor="middle">-7.99</text>
<text transform="scale(0.52 1)" x="1420.27" y="690.25" font-family="Liberation Sans" font-size="8.21" font-weight="bold" fill="#16222a" text-anchor="middle">%</text>
<text transform="scale(0.9 1)" x="874.19 878.09 884 888.9" y="690.25" font-family="Liberation Sans" font-size="8.21" fill="#2c2c2c" text-anchor="middle">0.06</text>
<text transform="scale(0.52 1)" x="1546.98" y="690.25" font-family="Liberation Sans" font-size="8.21" fill="#2c2c2c" text-anchor="middle">%</text>
<text transform="scale(0.9 1)" x="25.5" y="701.4" font-family="Liberation Sans" font-size="8.21" fill="#2c2c2c" text-anchor="middle">2</text>
<text transform="scale(0.9 1)" x="61.22 66.12 71.03 75.93 80.84 85.74 90.66 95.56" y="701.4" font-family="Liberation Sans" font-size="8.21" fill="#2c2c2c" text-anchor="middle">80210210</text>
<text transform="scale(0.9 1)" x="147.81 152.5 157.18 208.7 213.38" y="701.5" font-family="Liberation Sans" font-size="8.25" fill="#2c2c2c" text-anchor="middle">C2520</text>
<text x="440.65" y="701.1" font-family="Liberation Serif" font-size="8.2" fill="#222" text-anchor="middle" transform="translate(439.85 0) scale(0.8 1) translate(-440.65 0)">m</text>
<text x="443.15" y="698.2" font-family="Liberation Sans" font-size="5" fill="#222" text-anchor="start" transform="translate(442.25 0) scale(0.8 1) translate(-443.15 0)">3</text>
<text transform="scale(0.9 1)" x="526.5 531.41 536.31 540.22 546.12 551.03 565.74 570.66 575.56 579.47 585.37 590.28" y="701.4" font-family="Liberation Sans" font-size="8.21" fill="#2c2c2c" text-anchor="middle">518.33575.67</text>
<text transform="scale(0.9 1)" x="611.39 616.3 621.2 625.11 631.01 635.92 650.63 655.54 660.44 664.36 670.26 675.17" y="701.4" font-family="Liberation Sans" font-size="8.21" fill="#2c2c2c" text-anchor="middle">477.33530.33</text>
<text transform="scale(0.9 1)" x="696.17 701.08 705.98 709.89 715.79 720.7 735.41 740.32 745.22 749.13 755.03 759.94" y="701.4" font-family="Liberation Sans" font-size="8.21" fill="#2c2c2c" text-anchor="middle">477.67530.67</text>
<text transform="scale(0.9 1)" x="796.07 800.98 804.88 810.79 815.69" y="701.4" font-family="Liberation Sans" font-size="8.21" font-weight="bold" fill="#16222a" text-anchor="middle">-7.82</text>
<text transform="scale(0.52 1)" x="1420.27" y="701.4" font-family="Liberation Sans" font-size="8.21" font-weight="bold" fill="#16222a" text-anchor="middle">%</text>
<text transform="scale(0.9 1)" x="874.19 878.09 884 888.9" y="701.4" font-family="Liberation Sans" font-size="8.21" fill="#2c2c2c" text-anchor="middle">0.06</text>
<text transform="scale(0.52 1)" x="1546.98" y="701.4" font-family="Liberation Sans" font-size="8.21" fill="#2c2c2c" text-anchor="middle">%</text>
<text transform="scale(0.9 1)" x="25.5" y="712.9" font-family="Liberation Sans" font-size="8.21" fill="#2c2c2c" text-anchor="middle">3</text>
<text transform="scale(0.9 1)" x="61.22 66.12 71.03 75.93 80.84 85.74 90.66 95.56" y="712.9" font-family="Liberation Sans" font-size="8.21" fill="#2c2c2c" text-anchor="middle">80210220</text>
<text transform="scale(0.9 1)" x="147.81 152.5 157.18 208.7 213.38" y="713" font-family="Liberation Sans" font-size="8.25" fill="#2c2c2c" text-anchor="middle">C3020</text>
<text x="440.65" y="712.6" font-family="Liberation Serif" font-size="8.2" fill="#222" text-anchor="middle" transform="translate(439.85 0) scale(0.8 1) translate(-440.65 0)">m</text>
<text x="443.15" y="709.7" font-family="Liberation Sans" font-size="5" fill="#222" text-anchor="start" transform="translate(442.25 0) scale(0.8 1) translate(-443.15 0)">3</text>
<text transform="scale(0.9 1)" x="526.5 531.41 536.31 540.22 546.12 551.03 565.74 570.66 575.56 579.47 585.37 590.28" y="712.9" font-family="Liberation Sans" font-size="8.21" fill="#2c2c2c" text-anchor="middle">528.33587.00</text>
<text transform="scale(0.9 1)" x="611.39 616.3 621.2 625.11 631.01 635.92 650.63 655.54 660.44 664.36 670.26 675.17" y="712.9" font-family="Liberation Sans" font-size="8.21" fill="#2c2c2c" text-anchor="middle">486.33540.00</text>
<text transform="scale(0.9 1)" x="696.17 701.08 705.98 709.89 715.79 720.7 735.41 740.32 745.22 749.13 755.03 759.94" y="712.9" font-family="Liberation Sans" font-size="8.21" fill="#2c2c2c" text-anchor="middle">486.33540.33</text>
<text transform="scale(0.9 1)" x="796.07 800.98 804.88 810.79 815.69" y="712.9" font-family="Liberation Sans" font-size="8.21" font-weight="bold" fill="#16222a" text-anchor="middle">-7.95</text>
<text transform="scale(0.52 1)" x="1420.27" y="712.9" font-family="Liberation Sans" font-size="8.21" font-weight="bold" fill="#16222a" text-anchor="middle">%</text>
<text transform="scale(0.9 1)" x="874.19 878.09 884 888.9" y="712.9" font-family="Liberation Sans" font-size="8.21" fill="#2c2c2c" text-anchor="middle">0.06</text>
<text transform="scale(0.52 1)" x="1546.98" y="712.9" font-family="Liberation Sans" font-size="8.21" fill="#2c2c2c" text-anchor="middle">%</text>
</g>
</svg>
</body>
</html>
